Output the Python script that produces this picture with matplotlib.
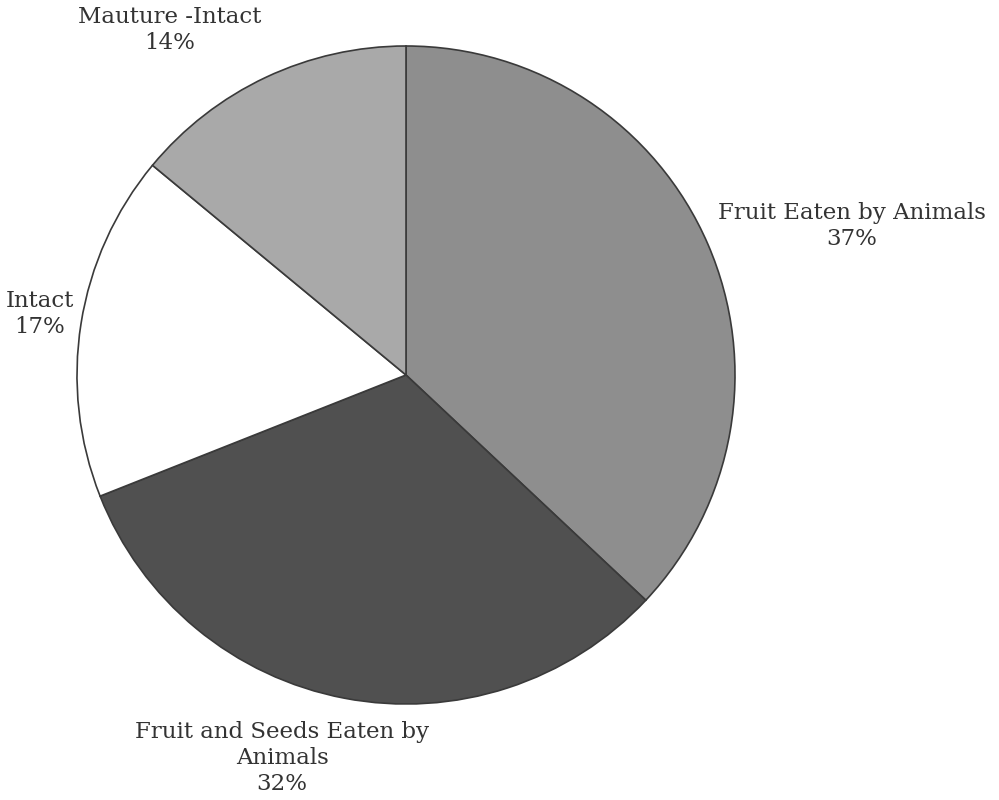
import matplotlib.pyplot as plt

# slice data, clockwise from 12 o'clock
labels = ['Fruit Eaten by Animals', 'Fruit and Seeds Eaten by\nAnimals', 'Intact', 'Mauture -Intact']
shares = [37, 32, 17, 14]
colors = ['#8e8e8e', '#505050', '#ffffff', '#a9a9a9']

# label anchor points (pixel coords, y from top)
label_pos = [(852, 226), (282, 758), (40, 314), (170, 30)]

fig = plt.figure(figsize=(9.99, 8), dpi=100)
ax = fig.add_axes([0, 0, 1, 1])

ax.pie(shares, colors=colors, startangle=90, counterclock=False,
       center=(406, 800 - 375), radius=329, frame=True,
       wedgeprops=dict(edgecolor='#3a3a3a', linewidth=1.2))
ax.set_xlim(0, 999)
ax.set_ylim(0, 800)
ax.set_aspect('equal')
ax.axis('off')

for lab, val, (x, y) in zip(labels, shares, label_pos):
    ax.text(x, 800 - y, f'{lab}\n{val}%', ha='center', va='center',
            fontsize=16.5, family='DejaVu Serif', color='#333333',
            linespacing=1.25)

fig.savefig('out.png', dpi=100)
